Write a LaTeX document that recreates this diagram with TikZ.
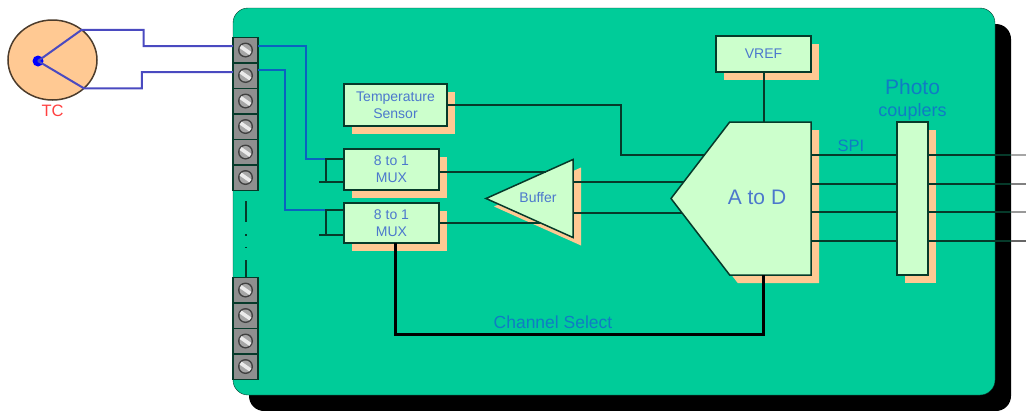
\documentclass[tikz,border=0pt]{standalone}
\usepackage{xcolor}
\usepackage{fontspec}
\setmainfont{Liberation Sans}
\usepackage{tikz}
\usetikzlibrary{shapes.geometric, shapes.symbols, shadows, positioning, calc}
\definecolor{BoardGreen}{HTML}{00CC99}
\definecolor{BoxGreen}{HTML}{CCFFCC}
\definecolor{ShadowTan}{HTML}{FFC993}
\definecolor{TextBlue}{HTML}{4C78CC}
\definecolor{LabelBlue}{HTML}{0F7CC4}
\definecolor{WireBlue}{HTML}{0A62C0}
\definecolor{LeadBlue}{HTML}{4A4AC0}
\definecolor{WireDark}{HTML}{063A2A}
\definecolor{TermGrey}{HTML}{8F8F8F}

\begin{document}
\begin{tikzpicture}[x=1pt, y=-1pt]
    \tikzstyle{tanshadow} = [copy shadow={shadow xshift=8pt, shadow yshift=-8pt, fill=ShadowTan, draw=none}]
    \tikzstyle{block} = [rectangle, draw=WireDark, fill=BoxGreen, line width=1.5pt, tanshadow, align=center, inner sep=0pt, outer sep=0pt, text=TextBlue, font=\fontsize{14}{17}\selectfont]
    \tikzstyle{terminal} = [rectangle, draw=WireDark, fill=TermGrey, line width=1.5pt, minimum width=25pt, minimum height=25.5pt, inner sep=0pt, outer sep=0pt,
        path picture={
            \begin{scope}[shift={(path picture bounding box.center)}]
                \fill [black!75] (0pt,0pt) circle (7.5pt);
                \fill [black!35] (0pt,0pt) circle (6pt);
                \draw [white!92!black, line width=3.6pt] (-4.9pt,3.4pt) -- (4.9pt,-3.4pt);
            \end{scope}
        }]
    \tikzstyle{label} = [inner sep=0pt, text=LabelBlue]
    \tikzstyle{line} = [draw=WireDark, line width=2pt]
    \tikzstyle{wire} = [draw=WireBlue, line width=2pt]
    \tikzstyle{lead} = [draw=LeadBlue, line width=2pt]

    \useasboundingbox (0,0) rectangle (1026,410);

    \node [rectangle, rounded corners=15pt, draw=WireDark, fill=BoardGreen, minimum width=762pt, minimum height=387pt, inner sep=0pt, outer sep=0pt,
        copy shadow={shadow xshift=16pt, shadow yshift=-16pt, fill=black, draw=none}] (board) at (614,201.5) {};

    % terminal strips
    \node [terminal] (term1) at (245.5,50) {};
    \foreach \i [evaluate=\i as \j using int(\i-1)] in {2,...,6}
        \node [terminal, below=0pt of term\j] (term\i) {};
    \node [terminal] (term7) at (245.5,290) {};
    \foreach \i [evaluate=\i as \j using int(\i-1)] in {8,...,10}
        \node [terminal, below=0pt of term\j] (term\i) {};
    \path [line, dash pattern=on 0pt off 11pt on 21pt off 12pt on 1.5pt off 11pt on 1.5pt off 12pt on 20pt] (term6.south) -- (term7.north);

    % thermocouple
    \node [ellipse, draw=black!70!ShadowTan, fill=ShadowTan, line width=1.5pt, minimum width=89pt, minimum height=80pt, inner sep=0pt, outer sep=0pt] (tc) at (52.5,60) {};
    \node [circle, fill=blue, minimum size=11pt, inner sep=0pt] (tcdot) at (38,61) {};
    \node [text=red!75!white, inner sep=0pt, font=\fontsize{16.5}{18}\selectfont, below=5pt of tc] (tclabel) {TC};
    \path [lead] (tcdot.center) -- (tc.46) -- ++(62,0) |- ([yshift=4pt]term1.west);
    \path [lead] (tcdot.center) -- (tc.-42) -- ++(58,0) |- ([yshift=3.5pt]term2.west);

    % signal chain
    \node [block, minimum width=95pt, minimum height=41pt] (mux1) at (391.5,169.5) {8 to 1\\MUX};
    \node [block, minimum width=95pt, minimum height=40pt, below=13pt of mux1] (mux2) {8 to 1\\MUX};
    \node [block, minimum width=103pt, minimum height=42pt, above=23pt of mux1.north west, anchor=south west] (temp) {Temperature\\Sensor};
    \node [block, isosceles triangle, isosceles triangle apex angle=48, isosceles triangle stretches=true, shape border rotate=180, minimum height=87pt, minimum width=78pt, anchor=apex] (buffer) at (486,198.5) {};
    \node [inner sep=0pt, text=TextBlue, font=\fontsize{14}{17}\selectfont] (buflabel) at (538,197) {Buffer};
    \node [block, signal, signal to=west, signal pointer angle=105, minimum width=140pt, minimum height=153pt, anchor=east] (atod) at (811,198.5) {};
    \node [inner sep=0pt, text=TextBlue, font=\fontsize{21}{24}\selectfont] (atodlabel) at (757,197) {A to D};
    \node [block, minimum width=95pt, minimum height=36pt] (vref) at (763.5,54) {VREF};
    \node [block, minimum width=31pt, minimum height=153pt] (photo) at (912.5,198.5) {};
    \node [label, font=\fontsize{18}{20}\selectfont, above=2pt of photo] (couplers) {couplers};
    \node [label, font=\fontsize{21}{24}\selectfont, above=8pt of couplers] (phototext) {Photo};
    \node [label, font=\fontsize{16.5}{18}\selectfont] (spi) at (851,146) {SPI};
    \node [label, font=\fontsize{17.5}{20}\selectfont] (chsel) at (553,322) {Channel Select};

    \path [wire] ([yshift=4pt]term1.east) -- ++(48,0) |- ([yshift=11pt]mux1.west);
    \path [wire] ([yshift=5.5pt]term2.east) -- ++(27,0) |- ([yshift=13pt]mux2.west);
    \path [line] ([yshift=11pt]mux1.west) -- ++(-18,0) -- ++(0,24);
    \path [line] ([yshift=-12.5pt]mux1.west) -- ++(-25,0);
    \path [line] ([yshift=13pt]mux2.west) -- ++(-18,0) -- ++(0,25);
    \path [line] ([yshift=-12pt]mux2.west) -- ++(-25,0);

    \coordinate (bufinA) at ($(buffer.apex)!0.69!(buffer.right corner)$);
    \coordinate (bufinB) at ($(buffer.apex)!0.625!(buffer.left corner)$);
    \path [line] (mux1.east |- bufinA) -- (bufinA);
    \path [line] (mux2.east |- bufinB) -- (bufinB);
    \path [line] (atod.169.6 -| buffer.east) -- (atod.169.6);
    \path [line] (atod.189.3 -| buffer.east) -- (atod.189.3);
    \path [line] (temp.east) -- ++(174,0) |- (atod.147.6);
    \path [line] (vref) -- (vref |- atod.north);
    \path [draw=black, line width=3pt] (atod.south -| vref) -- ++(0,59) -| (mux2.south -| 395,0);

    \foreach \i/\y/\g in {1/155/35, 2/184/50, 3/212/40, 4/241/60} {
        \coordinate (edge\i) at (1011,\y);
        \coordinate (out\i) at (1026,\y);
        \path [line] (atod.east |- edge\i) -- (photo.west |- edge\i);
        \path [line] (photo.east |- edge\i) -- (edge\i);
        \path [draw=black!\g!white, line width=1.5pt] (edge\i) -- (out\i);
    }
\end{tikzpicture}
\end{document}
